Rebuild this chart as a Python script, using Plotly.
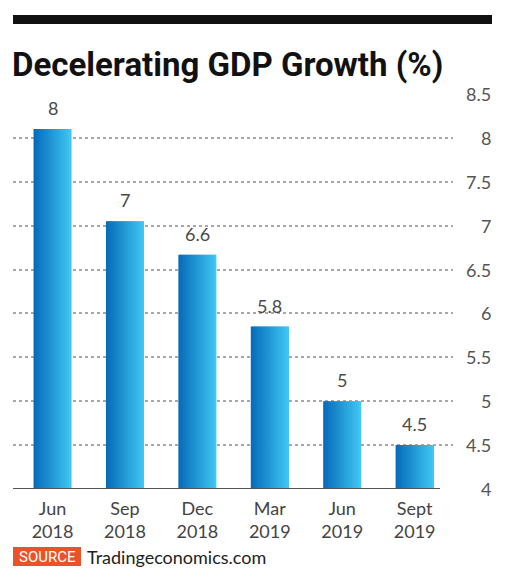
import plotly.graph_objects as go

categories = ["Jun<br>2018", "Sep<br>2018", "Dec<br>2018", "Mar<br>2019", "Jun<br>2019", "Sept<br>2019"]
gdp_values = [8.1, 7.05, 6.67, 5.85, 5.0, 4.5]
value_labels = ["8", "7", "6.6", "5.8", "5", "4.5"]
y_ticks = [4, 4.5, 5, 5.5, 6, 6.5, 7, 7.5, 8, 8.5]
y_tick_labels = ["4", "4.5", "5", "5.5", "6", "6.5", "7", "7.5", "8", "8.5"]

W, H = 517, 577
L, R, T, B = 13, 453, 94, 489  # plot area in px
pw, ph = R - L, B - T

def px_x(x):
    return (x - L) / pw

def px_y(y):
    return (B - y) / ph

fig = go.Figure()

# gradient bars built from slices
N = 24
bar_w = 0.525
c0 = (6, 108, 186)
c1 = (64, 198, 242)
sw = bar_w / N
for k in range(N):
    t = k / (N - 1)
    col = "rgb(%d,%d,%d)" % tuple(round(a + (b - a) * t) for a, b in zip(c0, c1))
    w = sw * (1.6 if k < N - 1 else 1.0)
    fig.add_trace(go.Bar(
        x=categories, y=gdp_values,
        width=w,
        offset=-bar_w / 2 + k * sw,
        marker=dict(color=col, line=dict(width=0)),
        hoverinfo="skip", showlegend=False,
    ))

font_main = "Lato, 'Open Sans', sans-serif"

# value labels above bars
for c, v, lab in zip(categories, gdp_values, value_labels):
    fig.add_annotation(x=c, y=v, text=lab, showarrow=False, yanchor="bottom",
                       yshift=8, font=dict(family=font_main, size=18, color="#4a4a4a"))

# right-aligned y tick labels
for v, lab in zip(y_ticks, y_tick_labels):
    fig.add_annotation(xref="paper", x=px_x(493), y=v, text=lab, showarrow=False,
                       xanchor="right", yanchor="middle",
                       font=dict(family=font_main, size=18, color="#555555"))

# baseline
fig.add_shape(type="line", xref="paper", x0=0, x1=px_x(440), y0=4, y1=4,
              line=dict(color="#555555", width=2))

# top black bar
fig.add_shape(type="rect", xref="paper", yref="paper", x0=px_x(13), x1=px_x(492),
              y0=px_y(24), y1=px_y(15), fillcolor="#111111", line=dict(width=0))

# title
fig.add_annotation(xref="paper", yref="paper", x=px_x(10), y=px_y(43), text="<b>Decelerating GDP Growth (%)</b>",
                   showarrow=False, xanchor="left", yanchor="top",
                   font=dict(family="Roboto, sans-serif", size=33, color="#111111"))

# source box
fig.add_shape(type="rect", xref="paper", yref="paper", x0=px_x(13), x1=px_x(81),
              y0=px_y(566), y1=px_y(547), fillcolor="#e8532b", line=dict(width=0))
fig.add_annotation(xref="paper", yref="paper", x=px_x(47), y=px_y(556.5), text="SOURCE",
                   showarrow=False, xanchor="center", yanchor="middle",
                   font=dict(family="Roboto, sans-serif", size=15, color="white"))
fig.add_annotation(xref="paper", yref="paper", x=px_x(85), y=px_y(556.5), text="Tradingeconomics.com",
                   showarrow=False, xanchor="left", yanchor="middle",
                   font=dict(family=font_main, size=18, color="#222222"))

fig.update_layout(
    width=W, height=H,
    margin=dict(l=L, r=W - R, t=T, b=H - B, pad=0),
    paper_bgcolor="white", plot_bgcolor="white",
    barmode="overlay",
    showlegend=False,
    xaxis=dict(type="category", range=[-0.546, 5.53], showgrid=False, zeroline=False,
               showline=False, ticks="outside", ticklen=3, tickcolor="rgba(0,0,0,0)",
               tickfont=dict(family=font_main, size=18, color="#444444")),
    yaxis=dict(range=[4, 8.5], tickvals=y_ticks[1:], showticklabels=False, showgrid=True,
               gridcolor="#a8a8a8", griddash="dot", gridwidth=1.5, zeroline=False, showline=False),
)

fig.write_html("out.html", config={"displayModeBar": False},
               post_script="document.body.style.margin='0';document.body.style.overflow='hidden';")
